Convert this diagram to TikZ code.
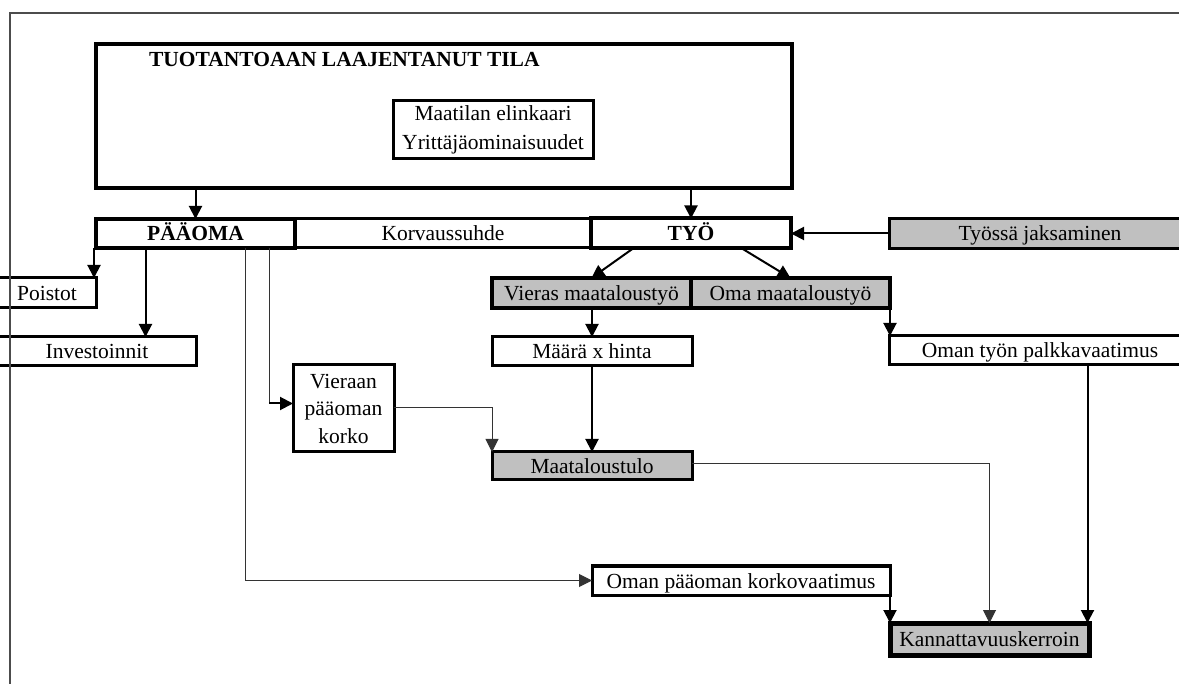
\documentclass[tikz,border=0pt]{standalone}
\usepackage{fontspec}
\setmainfont{Liberation Serif}
\usetikzlibrary{arrows.meta,calc}
\definecolor{boxgray}{RGB}{192,192,192}
\begin{document}
\begin{tikzpicture}[x=1pt,y=-1pt,
  every node/.style={font=\fontsize{21.5}{29}\selectfont, inner sep=0pt, outer sep=0pt},
  one/.style={text height=20pt, text depth=5pt},
  bx/.style={draw, line width=3pt, rectangle, align=center},
  tbx/.style={draw, line width=4pt, rectangle, align=center},
  shaded/.style={fill=boxgray},
  arr/.style={line width=2pt, -{Triangle[length=13pt,width=13pt]}},
  thinline/.style={line width=1pt, draw=black!80},
  thinarr/.style={line width=1pt, draw=black!80, -{Triangle[length=13pt,width=13pt]}}
]
\useasboundingbox (0,0) rectangle (1179,684);
\clip (0,0) rectangle (1179,684);
\fill[white] (0,0) rectangle (1179,684);

% boxes
\node[tbx, minimum width=696pt, minimum height=144pt] (tila) at (444,116) {};
\node[anchor=base west, font=\fontsize{21.5}{29}\selectfont\bfseries] (title) at (149,67) {TUOTANTOAAN LAAJENTANUT TILA};
\node[bx, minimum width=200pt, minimum height=58pt] (elin) at (493,130) {Maatilan elinkaari\\Yrittäjäominaisuudet};

\node[tbx, one, minimum width=199pt, minimum height=29pt, font=\fontsize{21.5}{29}\selectfont\bfseries] (paaoma) at (195.5,233.5) {PÄÄOMA};
\node[bx, one, minimum width=296pt, minimum height=29pt] (korv) at (443,233.5) {Korvaussuhde};
\node[tbx, one, minimum width=200pt, minimum height=30pt, font=\fontsize{21.5}{29}\selectfont\bfseries] (tyo) at (691,233.5) {TYÖ};
\node[bx, one, shaded, minimum width=302pt, minimum height=30pt] (tyossa) at (1040,233.5) {Työssä jaksaminen};

\node[bx, one, minimum width=98pt, minimum height=30pt] (poistot) at (47,293) {Poistot};
\node[bx, one, minimum width=198pt, minimum height=29pt] (inv) at (97,351.5) {Investoinnit};

\node[tbx, one, shaded, minimum width=199pt, minimum height=30pt] (vieras) at (591.5,293) {Vieras maataloustyö};
\node[tbx, one, shaded, minimum width=199pt, minimum height=30pt] (oma) at (790.5,293) {Oma maataloustyö};
\node[bx, one, minimum width=200pt, minimum height=29pt] (maara) at (592,351.5) {Määrä x hinta};
\node[bx, one, minimum width=302pt, minimum height=29pt] (omantyon) at (1040,350.5) {Oman työn palkkavaatimus};

\node[bx, minimum width=101pt, minimum height=87pt, font=\fontsize{21.5}{27.5}\selectfont] (vieraan) at (343.5,408.5) {Vieraan\\pääoman\\korko};
\node[bx, one, shaded, minimum width=200pt, minimum height=28pt] (maatalo) at (592,466) {Maataloustulo};
\node[bx, one, minimum width=298pt, minimum height=29pt] (omanpaa) at (741,580.5) {Oman pääoman korkovaatimus};
\node[draw, one, line width=5pt, shaded, minimum width=199pt, minimum height=32pt] (kann) at (989.5,639) {Kannattavuuskerroin};

% outer frame
\draw[line width=1.5pt, draw=black!70] (10,700) -- (10,13) -- (1200,13);

% connectors
\draw[arr] (tila.south -| paaoma.north) -- (paaoma.north);
\draw[arr] (tila.south -| tyo.north) -- (tyo.north);
\draw[arr] (tyossa.west) -- (tyo.east);
\draw[arr] ([xshift=-58pt]tyo.south) -- (vieras.north);
\draw[arr] ([xshift=51pt]tyo.south) -- (oma.north);
\draw[arr] (vieras.south -| maara.north) -- (maara.north);
\draw[arr] (oma.south east) -- (oma.south east |- omantyon.north);

\draw[arr] ([xshift=-2pt]paaoma.south west) -- ([xshift=-2pt]paaoma.south west |- poistot.north);
\draw[arr] ([xshift=-50pt]paaoma.south) -- ([xshift=-50pt]paaoma.south |- inv.north);
\draw[thinarr] ([xshift=50pt]paaoma.south) |- (omanpaa.west);
\coordinate (vk) at ([xshift=73.5pt]paaoma.south |- vieraan.west);
\coordinate (vkk) at ([yshift=5pt]vk);
\draw[thinline] ([xshift=73.5pt]paaoma.south) -- (vkk);
\draw[arr] (vkk) -- (vkk -| vieraan.west);

\draw[thinarr] ([yshift=1pt]vieraan.east) -| (maatalo.north west);
\draw[arr] (maara.south) -- (maatalo.north);
\draw[thinarr] ([yshift=2pt]maatalo.east) -| (kann.north);
\coordinate (kx) at ([xshift=-1.5pt]kann.north east);
\draw[arr] (omantyon.south -| kx) -- (kx);
\draw[arr] (omanpaa.south east) -- (omanpaa.south east |- kann.north west);
\end{tikzpicture}
\end{document}
